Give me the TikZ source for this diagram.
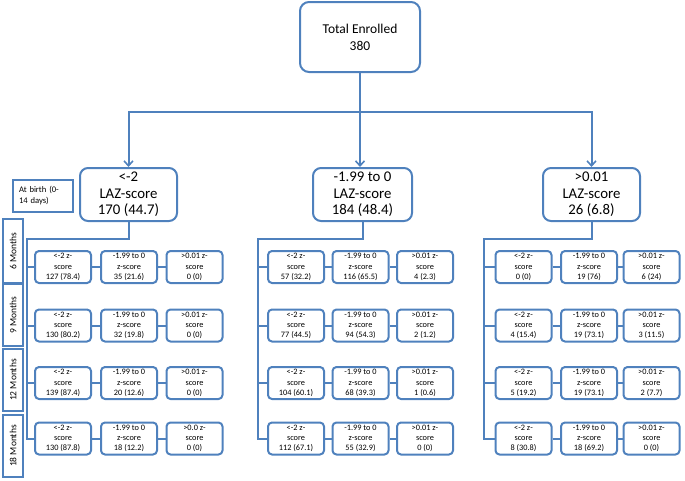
\documentclass[tikz,border=0pt]{standalone}
\usepackage{fontspec}
\setmainfont{Carlito}
\usetikzlibrary{arrows.meta}
\definecolor{bluec}{RGB}{79,129,189}
\tikzset{
  conn/.style={draw=bluec, line width=2pt},
  arr/.style={conn, -{Straight Barb[length=5pt,width=9pt,line width=1.6pt]}},
  topbox/.style={draw=bluec, line width=2pt, rounded corners=9pt, minimum width=120pt, minimum height=70pt, inner sep=0pt, align=center, font=\fontsize{13.5}{17}\selectfont},
  lvlbox/.style={draw=bluec, line width=2pt, rounded corners=8pt, minimum width=97pt, minimum height=53pt, inner sep=0pt, align=center, font=\fontsize{14.8}{16.5}\selectfont},
  smallbox/.style={draw=bluec, line width=2pt, rounded corners=4pt, minimum width=56pt, minimum height=32pt, inner sep=0pt, align=center, font=\fontsize{8.3}{10.3}\selectfont},
  labbox/.style={draw=bluec, line width=2pt, inner sep=0pt, font=\fontsize{9.5}{10}\selectfont},
}
\begin{document}
\begin{tikzpicture}[x=1pt,y=-1pt]
\useasboundingbox (0,0) rectangle (685,480);
% top
\node[topbox] (top) at (360,37) {Total Enrolled\\380};
\node[lvlbox] (LA) at (128.5,194.5) {<-2\\LAZ-score\\170 (44.7)};
\node[lvlbox, minimum width=99pt] (LB) at (362.5,194.5) {-1.99 to 0\\LAZ-score\\184 (48.4)};
\node[lvlbox] (LC) at (591.5,194.5) {>0.01\\LAZ-score\\26 (6.8)};
\coordinate (hub) at (360,112);
\draw[conn] (top.south) -- (hub);
\draw[arr] (hub) -| (LA.north);
\draw[arr] (hub) -| (LC.north);
\draw[arr] (hub) -- (hub |- LB.north);
% at birth
\node[labbox, font=\fontsize{8.6}{11}\selectfont, inner xsep=6pt, minimum height=32pt, align=left, text width=48pt] (birth) at (43,196) {At birth (0-\\14 days)};
% months
\node[labbox, minimum width=64pt, minimum height=20pt, rotate=90] (m6) at (13,251) {6 Months};
\node[labbox, minimum width=62pt, minimum height=20pt, rotate=90] (m9) at (13,315) {9 Months};
\node[labbox, minimum width=62pt, minimum height=20pt, rotate=90] (m12) at (13,380) {12 Months};
\node[labbox, minimum width=62pt, minimum height=20pt, rotate=90] (m18) at (13,446) {18 Months};
% group A
\node[smallbox] (A11) at (63,267) {<-2 z-\\score\\127 (78.4)};
\node[smallbox] (A12) at (129,267) {-1.99 to 0\\z-score\\35 (21.6)};
\node[smallbox] (A13) at (194.5,267) {>0.01 z-\\score\\0 (0)};
\node[smallbox] (A21) at (63,325.5) {<-2 z-\\score\\130 (80.2)};
\node[smallbox] (A22) at (129,325.5) {-1.99 to 0\\z-score\\32 (19.8)};
\node[smallbox] (A23) at (194.5,325.5) {>0.01 z-\\score\\0 (0)};
\node[smallbox] (A31) at (63,383) {<-2 z-\\score\\139 (87.4)};
\node[smallbox] (A32) at (129,383) {-1.99 to 0\\z-score\\20 (12.6)};
\node[smallbox] (A33) at (194.5,383) {>0.01 z-\\score\\0 (0)};
\node[smallbox] (A41) at (63,438.5) {<-2 z-\\score\\130 (87.8)};
\node[smallbox] (A42) at (129,438.5) {-1.99 to 0\\z-score\\18 (12.2)};
\node[smallbox] (A43) at (194.5,438.5) {>0.0 z-\\score\\0 (0)};
% group B
\node[smallbox] (B11) at (296,267) {<-2 z-\\score\\57 (32.2)};
\node[smallbox] (B12) at (360.5,267) {-1.99 to 0\\z-score\\116 (65.5)};
\node[smallbox] (B13) at (425,267) {>0.01 z-\\score\\4 (2.3)};
\node[smallbox] (B21) at (296,325.5) {<-2 z-\\score\\77 (44.5)};
\node[smallbox] (B22) at (360.5,325.5) {-1.99 to 0\\z-score\\94 (54.3)};
\node[smallbox] (B23) at (425,325.5) {>0.01 z-\\score\\2 (1.2)};
\node[smallbox] (B31) at (296,383) {<-2 z-\\score\\104 (60.1)};
\node[smallbox] (B32) at (360.5,383) {-1.99 to 0\\z-score\\68 (39.3)};
\node[smallbox] (B33) at (425,383) {>0.01 z-\\score\\1 (0.6)};
\node[smallbox] (B41) at (296,438.5) {<-2 z-\\score\\112 (67.1)};
\node[smallbox] (B42) at (360.5,438.5) {-1.99 to 0\\z-score\\55 (32.9)};
\node[smallbox] (B43) at (425,438.5) {>0.01 z-\\score\\0 (0)};
% group C
\node[smallbox] (C11) at (523.5,267) {<-2 z-\\score\\0 (0)};
\node[smallbox] (C12) at (589,267) {-1.99 to 0\\z-score\\19 (76)};
\node[smallbox] (C13) at (651.5,267) {>0.01 z-\\score\\6 (24)};
\node[smallbox] (C21) at (523.5,325.5) {<-2 z-\\score\\4 (15.4)};
\node[smallbox] (C22) at (589,325.5) {-1.99 to 0\\z-score\\19 (73.1)};
\node[smallbox] (C23) at (651.5,325.5) {>0.01 z-\\score\\3 (11.5)};
\node[smallbox] (C31) at (523.5,383) {<-2 z-\\score\\5 (19.2)};
\node[smallbox] (C32) at (589,383) {-1.99 to 0\\z-score\\19 (73.1)};
\node[smallbox] (C33) at (651.5,383) {>0.01 z-\\score\\2 (7.7)};
\node[smallbox] (C41) at (523.5,438.5) {<-2 z-\\score\\8 (30.8)};
\node[smallbox] (C42) at (589,438.5) {-1.99 to 0\\z-score\\18 (69.2)};
\node[smallbox] (C43) at (651.5,438.5) {>0.01 z-\\score\\0 (0)};
% trunk connectors
\coordinate (jA) at (27,239);
\coordinate (jB) at (258,239);
\coordinate (jC) at (484,239);
\draw[conn] (LA.south) |- (jA) |- (A41.west);
\draw[conn] (LB.south) |- (jB) |- (B41.west);
\draw[conn] (LC.south) |- (jC) |- (C41.west);
\foreach \g in {A,B,C}{
  \foreach \r in {1,2,3}{
    \draw[conn] (j\g |- \g\r1.west) -- (\g\r1.west);
  }
  \foreach \r in {1,2,3,4}{
    \draw[conn] (\g\r1.east) -- (\g\r2.west);
    \draw[conn] (\g\r2.east) -- (\g\r3.west);
  }
}
\end{tikzpicture}
\end{document}
